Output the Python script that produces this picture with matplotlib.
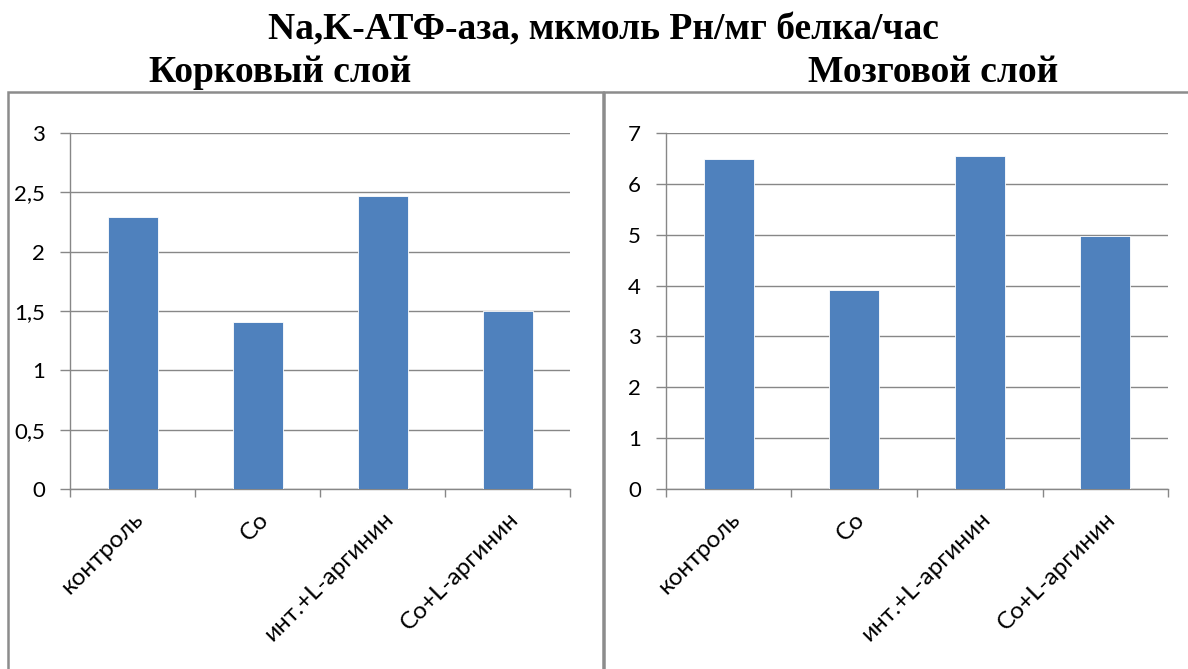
import matplotlib
matplotlib.use("Agg")
import matplotlib.pyplot as plt
from matplotlib.ticker import FuncFormatter, MultipleLocator, FixedLocator
from matplotlib.patches import Rectangle

# Data
categories = ["контроль", "Co", "инт.+L-аргинин", "Co+L-аргинин"]
cortex_values = [2.29, 1.41, 2.47, 1.50]
medulla_values = [6.49, 3.91, 6.54, 4.97]

main_title = "Na,K-АТФ-аза, мкмоль Рн/мг белка/час"
cortex_title = "Корковый слой"
medulla_title = "Мозговой слой"

W, H = 1188, 669
fig = plt.figure(figsize=(W / 100, H / 100), dpi=100)
fig.patch.set_facecolor("white")

BAR = "#4F81BD"
GRID = "#878787"
FRAME = "#8C8C8C"
tick_font = "Lato"
title_font = "Liberation Serif"


def px_axes(x0, y0, x1, y1):
    return fig.add_axes([x0 / W, 1 - y1 / H, (x1 - x0) / W, (y1 - y0) / H])


def fmt(v, _):
    s = f"{v:g}"
    return s.replace(".", ",")


def draw_panel(ax, values, ymax, step):
    x = range(len(values))
    ax.bar(x, values, width=0.4, color=BAR, edgecolor="white", linewidth=0.6, zorder=3)
    ax.set_xlim(-0.5, len(values) - 0.5)
    ax.set_ylim(0, ymax)
    ax.yaxis.set_major_locator(MultipleLocator(step))
    ax.yaxis.set_major_formatter(FuncFormatter(fmt))
    ax.grid(axis="y", color=GRID, linewidth=1.0, zorder=0)
    for s in ["top", "right"]:
        ax.spines[s].set_visible(False)
    for s in ["left", "bottom"]:
        ax.spines[s].set_color(GRID)
        ax.spines[s].set_linewidth(1.0)
    ax.tick_params(axis="y", length=7, color=GRID, width=1.0, labelsize=16, pad=11)
    # Category boundary ticks on x
    ax.xaxis.set_major_locator(FixedLocator([i - 0.5 for i in range(len(values) + 1)]))
    ax.xaxis.set_major_formatter(FuncFormatter(lambda v, p: ""))
    ax.tick_params(axis="x", length=6, color=GRID, width=1.0)
    ax.set_xticks(list(x), minor=True)
    ax.set_xticklabels(categories, minor=True, rotation=45, ha="right",
                       rotation_mode="anchor", fontsize=17.5, family=tick_font)
    ax.tick_params(axis="x", which="minor", length=0, pad=14)
    for lab in ax.get_yticklabels():
        lab.set_family(tick_font)
    ax.set_facecolor("none")


ax1 = px_axes(70, 133, 570, 489)
draw_panel(ax1, cortex_values, 3, 0.5)
ax2 = px_axes(666, 133, 1168, 489)
draw_panel(ax2, medulla_values, 7, 1)

# Panel frames
fig.patches.append(Rectangle((7.5 / W, -0.1), (603 - 7.5) / W, 1.1 - 92.5 / H,
                             transform=fig.transFigure, fill=False,
                             edgecolor=FRAME, linewidth=1.8, zorder=0))
fig.patches.append(Rectangle((604 / W, -0.1), (1200 - 604) / W, 1.1 - 92.5 / H,
                             transform=fig.transFigure, fill=False,
                             edgecolor=FRAME, linewidth=1.8, zorder=0))

fig.text(603 / W, 1 - 39 / H, main_title, ha="center", va="baseline",
         family=title_font, fontweight="bold", fontsize=27)
fig.text(280 / W, 1 - 82 / H, cortex_title, ha="center", va="baseline",
         family=title_font, fontweight="bold", fontsize=27)
fig.text(933 / W, 1 - 82 / H, medulla_title, ha="center", va="baseline",
         family=title_font, fontweight="bold", fontsize=27)

fig.savefig("out.png", dpi=100, facecolor="white")
